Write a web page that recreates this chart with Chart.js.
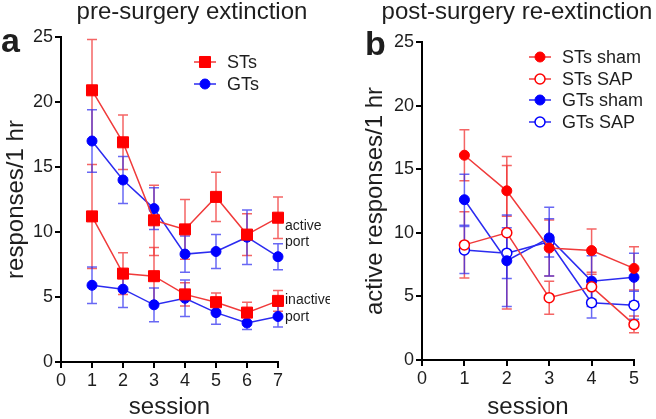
<!DOCTYPE html>
<html>
<head>
<meta charset="utf-8">
<script src="https://cdn.jsdelivr.net/npm/chart.js@4.4.1/dist/chart.umd.min.js"></script>
<style>
html, body { margin: 0; padding: 0; background: #fff; }
#wrap { position: relative; width: 656px; height: 419px; overflow: hidden; }
canvas { position: absolute; top: 0; }
#chartA { left: 0; }
#chartB { left: 330px; }
</style>
</head>
<body>
<div id="wrap">
<canvas id="chartA" width="330" height="419"></canvas>
<canvas id="chartB" width="326" height="419"></canvas>
</div>
<script>
// DATA - panel a (pre-surgery extinction)
const sessionsA = [1, 2, 3, 4, 5, 6, 7];
const stActive = [20.9, 16.9, 10.9, 10.2, 12.7, 9.8, 11.1];
const stActiveErr = [3.9, 2.1, 2.7, 2.3, 1.9, 1.6, 1.6];
const stInactive = [11.2, 6.8, 6.6, 5.2, 4.6, 3.8, 4.7];
const stInactiveErr = [4.0, 1.6, 2.2, 0.9, 0.7, 0.8, 0.8];
const gtActive = [17.0, 14.0, 11.8, 8.3, 8.5, 9.6, 8.1];
const gtActiveErr = [2.4, 1.8, 1.6, 1.4, 1.3, 2.1, 1.0];
const gtInactive = [5.9, 5.6, 4.4, 4.9, 3.8, 3.0, 3.5];
const gtInactiveErr = [1.4, 1.4, 1.3, 1.4, 0.9, 0.5, 0.8];
const xTicksA = [0, 1, 2, 3, 4, 5, 6, 7];

// DATA - panel b (post-surgery re-extinction)
const sessionsB = [1, 2, 3, 4, 5];
const stSham = [16.1, 13.3, 8.8, 8.6, 7.2];
const stShamErr = [2.0, 2.0, 2.2, 1.7, 1.7];
const stSap = [9.05, 10.0, 4.9, 5.75, 2.8];
const stSapErr = [2.6, 6.0, 1.3, 1.0, 0.65];
const gtSham = [12.6, 7.8, 9.6, 6.2, 6.5];
const gtShamErr = [2.0, 3.6, 1.5, 2.0, 1.9];
const gtSap = [8.65, 8.4, 9.3, 4.5, 4.3];
const gtSapErr = [1.85, 2.0, 2.7, 1.2, 1.1];
const xTicksB = [0, 1, 2, 3, 4, 5];

const yTicks = [0, 5, 10, 15, 20, 25];

// STYLE
const FONT = '"Liberation Sans", Arial, Helvetica, sans-serif';
const red = '#ff0000';
const redLine = '#f03a3a';
const redErr = 'rgba(240, 50, 50, 0.75)';
const blue = '#0000ff';
const blueLine = '#2b2bf0';
const blueErr = 'rgba(40, 40, 240, 0.7)';
const textColor = '#1e1e1e';

const toPoints = (xs, ys) => xs.map((x, i) => ({ x: x, y: ys[i] }));

const series = (label, xs, ys, errs, color, lineColor, errColor, style, filled) => ({
    label: label,
    data: toPoints(xs, ys),
    errors: errs,
    errorColor: errColor,
    borderColor: lineColor,
    borderWidth: 1.5,
    pointStyle: style,
    pointRadius: style === 'rect' ? 7.8 : 5,
    pointBackgroundColor: filled ? color : '#ffffff',
    pointBorderColor: color,
    pointBorderWidth: filled ? 1 : 1.5,
    tension: 0,
    fill: false,
    clip: false
});

// error bars drawn under the lines and markers
const errorBars = {
    id: 'errorBars',
    beforeDatasetsDraw(chart) {
        const ctx = chart.ctx;
        const yScale = chart.scales.y;
        chart.data.datasets.forEach((ds, i) => {
            if (!ds.errors) return;
            const meta = chart.getDatasetMeta(i);
            ctx.save();
            ctx.strokeStyle = ds.errorColor;
            ctx.lineWidth = 1.5;
            meta.data.forEach((pt, j) => {
                const v = ds.data[j].y;
                const e = ds.errors[j];
                const top = yScale.getPixelForValue(v + e);
                const bot = yScale.getPixelForValue(v - e);
                ctx.beginPath();
                ctx.moveTo(pt.x, top);
                ctx.lineTo(pt.x, bot);
                ctx.moveTo(pt.x - 5, top);
                ctx.lineTo(pt.x + 5, top);
                ctx.moveTo(pt.x - 5, bot);
                ctx.lineTo(pt.x + 5, bot);
                ctx.stroke();
            });
            ctx.restore();
        });
    }
};

const drawMarker = (ctx, ds, x, y) => {
    ctx.fillStyle = ds.pointBackgroundColor;
    ctx.strokeStyle = ds.pointBorderColor;
    ctx.lineWidth = ds.pointBorderWidth;
    ctx.beginPath();
    if (ds.pointStyle === 'rect') {
        const h = Math.SQRT1_2 * ds.pointRadius;
        ctx.rect(x - h, y - h, 2 * h, 2 * h);
    } else {
        ctx.arc(x, y, ds.pointRadius, 0, Math.PI * 2);
    }
    ctx.fill();
    ctx.stroke();
};

// titles, panel letters, legend and side notes
const annotations = {
    id: 'annotations',
    afterDraw(chart, args, opts) {
        const ctx = chart.ctx;
        ctx.save();
        (opts.texts || []).forEach(t => {
            ctx.font = t.font;
            ctx.fillStyle = textColor;
            ctx.textAlign = t.align || 'left';
            ctx.textBaseline = t.baseline || 'middle';
            ctx.fillText(t.text, t.x, t.y);
        });
        (opts.legend || []).forEach(item => {
            const ds = chart.data.datasets[item.dataset];
            ctx.strokeStyle = ds.borderColor;
            ctx.lineWidth = ds.borderWidth;
            ctx.beginPath();
            ctx.moveTo(item.x - 11, item.y);
            ctx.lineTo(item.x + 11, item.y);
            ctx.stroke();
            drawMarker(ctx, ds, item.x, item.y);
            ctx.font = '18px ' + FONT;
            ctx.fillStyle = textColor;
            ctx.textAlign = 'left';
            ctx.textBaseline = 'middle';
            ctx.fillText(ds.label, item.x + 22, item.y + 1);
        });
        ctx.restore();
    }
};

const axes = (xTicks, yWidth, xHeight, yTitle, yTitlePad) => ({
    x: {
        type: 'linear',
        min: xTicks[0],
        max: xTicks[xTicks.length - 1],
        afterBuildTicks: s => { s.ticks = xTicks.map(v => ({ value: v })); },
        afterFit: s => { s.height = xHeight; },
        grid: { drawOnChartArea: false, drawTicks: true, tickLength: 6, color: '#000', lineWidth: 2 },
        border: { display: true, color: '#000', width: 2 },
        ticks: { padding: 2, color: textColor, font: { family: FONT, size: 18 } },
        title: { display: true, text: 'session', color: textColor, padding: 0,
                 font: { family: FONT, size: 24, lineHeight: 1 } }
    },
    y: {
        type: 'linear',
        min: yTicks[0],
        max: yTicks[yTicks.length - 1],
        afterBuildTicks: s => { s.ticks = yTicks.map(v => ({ value: v })); },
        afterFit: s => { s.width = yWidth; },
        grid: { drawOnChartArea: false, drawTicks: true, tickLength: 6, color: '#000', lineWidth: 2 },
        border: { display: true, color: '#000', width: 2 },
        ticks: { padding: 2, color: textColor, font: { family: FONT, size: 18 } },
        title: { display: true, text: yTitle, color: textColor, padding: { top: yTitlePad, bottom: 0 },
                 font: { family: FONT, size: 24, lineHeight: 1 } }
    }
});

// PANEL A
const chartA = new Chart(document.getElementById('chartA'), {
    type: 'line',
    data: {
        datasets: [
            series('STs', sessionsA, stActive, stActiveErr, red, redLine, redErr, 'rect', true),
            series('STs inactive', sessionsA, stInactive, stInactiveErr, red, redLine, redErr, 'rect', true),
            series('GTs', sessionsA, gtActive, gtActiveErr, blue, blueLine, blueErr, 'circle', true),
            series('GTs inactive', sessionsA, gtInactive, gtInactiveErr, blue, blueLine, blueErr, 'circle', true)
        ]
    },
    options: {
        responsive: false,
        animation: false,
        layout: { padding: { top: 37, right: 52, left: 0, bottom: 0 } },
        scales: axes(xTicksA, 61, 57, 'responses/1 hr', 4),
        plugins: {
            legend: { display: false },
            tooltip: { enabled: false },
            annotations: {
                texts: [
                    { text: 'pre-surgery extinction', x: 192, y: 19, align: 'center', baseline: 'alphabetic', font: '24px ' + FONT },
                    { text: 'a', x: 1, y: 52, baseline: 'alphabetic', font: 'bold 34px ' + FONT },
                    { text: 'active', x: 285, y: 226, font: '14px ' + FONT },
                    { text: 'port', x: 285, y: 242, font: '14px ' + FONT },
                    { text: 'inactive', x: 285, y: 300, font: '14px ' + FONT },
                    { text: 'port', x: 285, y: 317, font: '14px ' + FONT }
                ],
                legend: [
                    { dataset: 0, x: 205, y: 62 },
                    { dataset: 2, x: 205, y: 84 }
                ]
            }
        }
    },
    plugins: [errorBars, annotations]
});

// PANEL B
const chartB = new Chart(document.getElementById('chartB'), {
    type: 'line',
    data: {
        datasets: [
            series('STs sham', sessionsB, stSham, stShamErr, red, redLine, redErr, 'circle', true),
            series('STs SAP', sessionsB, stSap, stSapErr, red, redLine, redErr, 'circle', false),
            series('GTs sham', sessionsB, gtSham, gtShamErr, blue, blueLine, blueErr, 'circle', true),
            series('GTs SAP', sessionsB, gtSap, gtSapErr, blue, blueLine, blueErr, 'circle', false)
        ]
    },
    options: {
        responsive: false,
        animation: false,
        layout: { padding: { top: 42, right: 22, left: 0, bottom: 0 } },
        scales: axes(xTicksB, 92, 59, 'active responses/1 hr', 33),
        plugins: {
            legend: { display: false },
            tooltip: { enabled: false },
            annotations: {
                texts: [
                    { text: 'post-surgery re-extinction', x: 187, y: 19, align: 'center', baseline: 'alphabetic', font: '24px ' + FONT },
                    { text: 'b', x: 35, y: 55, baseline: 'alphabetic', font: 'bold 34px ' + FONT }
                ],
                legend: [
                    { dataset: 0, x: 210, y: 57 },
                    { dataset: 1, x: 210, y: 79 },
                    { dataset: 2, x: 210, y: 100 },
                    { dataset: 3, x: 210, y: 122 }
                ]
            }
        }
    },
    plugins: [errorBars, annotations]
});
</script>
</body>
</html>
